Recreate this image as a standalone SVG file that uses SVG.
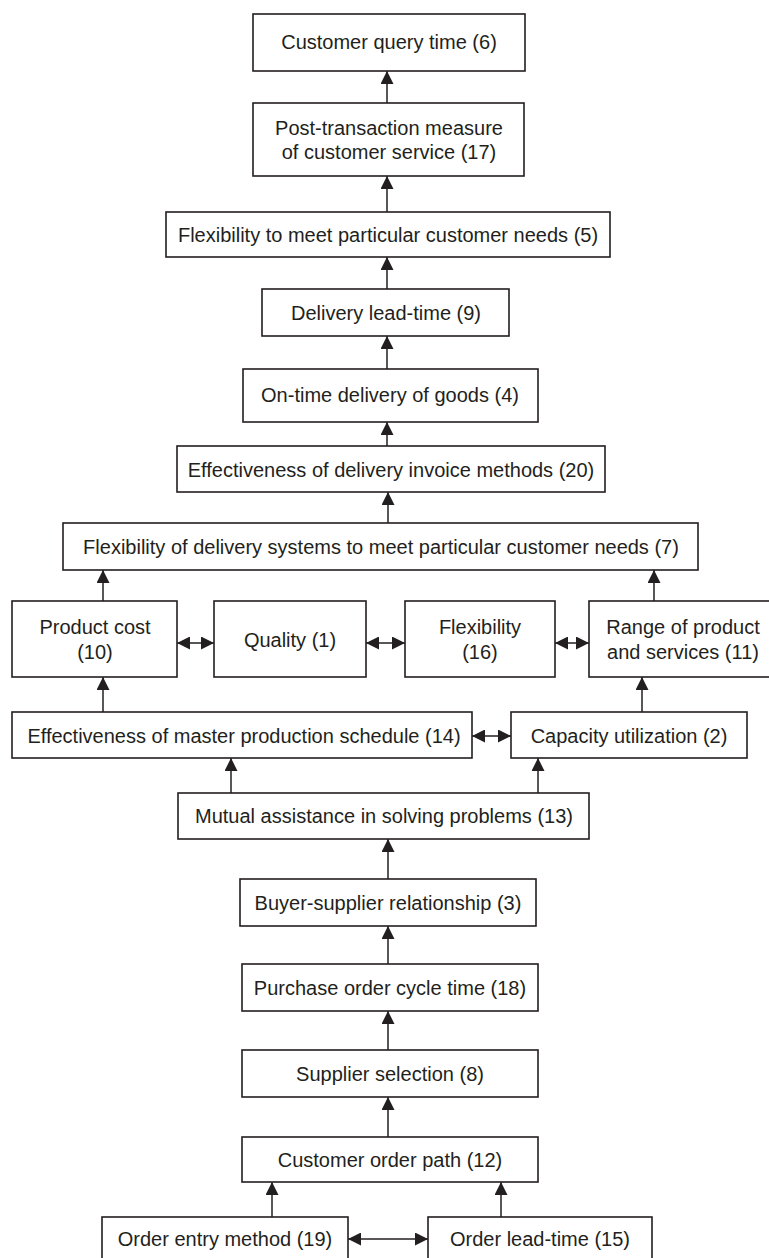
<svg xmlns="http://www.w3.org/2000/svg" width="769" height="1258" viewBox="0 0 769 1258">
<style>
rect{fill:#fff;stroke:#231f20;stroke-width:1.6}
text{font-family:"Liberation Sans",Arial,sans-serif;font-size:20px;fill:#231f20;text-anchor:middle}
.c line{stroke:#231f20;stroke-width:1.5;marker-end:url(#a)}
.c line.d{marker-start:url(#a)}
</style>
<defs>
<marker id="a" viewBox="0 0 12 13" refX="13" refY="6.5" markerWidth="12" markerHeight="13" markerUnits="userSpaceOnUse" orient="auto-start-reverse"><path d="M0,0L13,6.5L0,13z" fill="#231f20"/></marker>
</defs>
<rect x="0" y="0" width="769" height="1258" style="stroke:none"/>
<g id="n6"><rect x="253" y="14" width="272" height="57"/><text x="389" y="49">Customer query time (6)</text></g>
<g id="n17"><rect x="253" y="103" width="271" height="73"/><text x="389" y="135">Post-transaction measure</text><text x="389" y="159">of customer service (17)</text></g>
<g id="n5"><rect x="166" y="212" width="444" height="45"/><text x="388" y="242">Flexibility to meet particular customer needs (5)</text></g>
<g id="n9"><rect x="262" y="289" width="247" height="47"/><text x="386" y="320">Delivery lead-time (9)</text></g>
<g id="n4"><rect x="243" y="369" width="295" height="53"/><text x="390" y="402">On-time delivery of goods (4)</text></g>
<g id="n20"><rect x="177" y="446" width="428" height="46"/><text x="391" y="477">Effectiveness of delivery invoice methods (20)</text></g>
<g id="n7"><rect x="63" y="523" width="635" height="47"/><text x="381" y="554">Flexibility of delivery systems to meet particular customer needs (7)</text></g>
<g id="n10"><rect x="12" y="601" width="165" height="76"/><text x="95" y="634">Product cost</text><text x="95" y="659">(10)</text></g>
<g id="n1"><rect x="214" y="601" width="152" height="76"/><text x="290" y="647">Quality (1)</text></g>
<g id="n16"><rect x="405" y="601" width="150" height="76"/><text x="480" y="634">Flexibility</text><text x="480" y="659">(16)</text></g>
<g id="n11"><rect x="589" y="601" width="190" height="76"/><text x="683" y="634">Range of product</text><text x="683" y="659">and services (11)</text></g>
<g id="n14"><rect x="12" y="712" width="460" height="46"/><text x="244" y="743">Effectiveness of master production schedule (14)</text></g>
<g id="n2"><rect x="511" y="712" width="236" height="46"/><text x="629" y="743">Capacity utilization (2)</text></g>
<g id="n13"><rect x="178" y="793" width="411" height="46"/><text x="384" y="823">Mutual assistance in solving problems (13)</text></g>
<g id="n3"><rect x="240" y="879" width="296" height="47"/><text x="388" y="910">Buyer-supplier relationship (3)</text></g>
<g id="n18"><rect x="242" y="964" width="296" height="47"/><text x="390" y="995">Purchase order cycle time (18)</text></g>
<g id="n8"><rect x="242" y="1050" width="296" height="47"/><text x="390" y="1081">Supplier selection (8)</text></g>
<g id="n12"><rect x="242" y="1137" width="296" height="45"/><text x="390" y="1167">Customer order path (12)</text></g>
<g id="n19"><rect x="102" y="1217" width="246" height="50"/><text x="225" y="1246">Order entry method (19)</text></g>
<g id="n15"><rect x="428" y="1217" width="224" height="50"/><text x="540" y="1246">Order lead-time (15)</text></g>
<g class="c" id="connectors">
<line x1="387" y1="103" x2="387" y2="71"/>
<line x1="387" y1="212" x2="387" y2="176"/>
<line x1="387" y1="289" x2="387" y2="257"/>
<line x1="387" y1="369" x2="387" y2="336"/>
<line x1="387" y1="446" x2="387" y2="422"/>
<line x1="388" y1="523" x2="388" y2="492"/>
<line x1="103" y1="601" x2="103" y2="570"/>
<line x1="654" y1="601" x2="654" y2="570"/>
<line class="d" x1="177" y1="643" x2="214" y2="643"/>
<line class="d" x1="366" y1="643" x2="405" y2="643"/>
<line class="d" x1="555" y1="643" x2="589" y2="643"/>
<line x1="103" y1="712" x2="103" y2="677"/>
<line x1="642" y1="712" x2="642" y2="677"/>
<line class="d" x1="472" y1="736" x2="511" y2="736"/>
<line x1="231" y1="793" x2="231" y2="758"/>
<line x1="538" y1="793" x2="538" y2="758"/>
<line x1="388" y1="879" x2="388" y2="839"/>
<line x1="388" y1="964" x2="388" y2="926"/>
<line x1="388" y1="1050" x2="388" y2="1011"/>
<line x1="388" y1="1137" x2="388" y2="1097"/>
<line x1="272" y1="1217" x2="272" y2="1182"/>
<line x1="501" y1="1217" x2="501" y2="1182"/>
<line class="d" x1="348" y1="1239" x2="428" y2="1239"/>
</g>
</svg>
